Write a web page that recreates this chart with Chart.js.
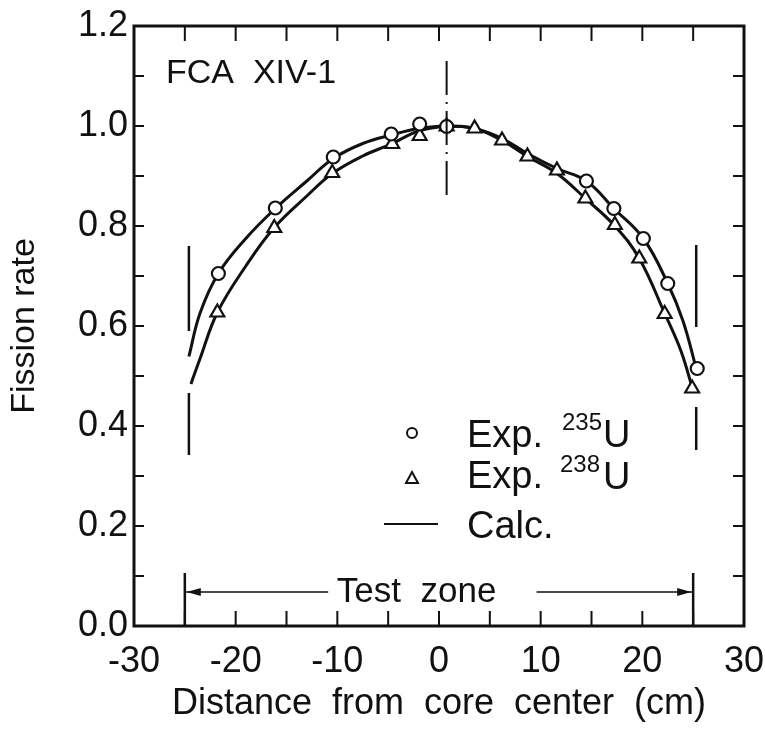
<!DOCTYPE html>
<html>
<head>
<meta charset="utf-8">
<script src="https://cdn.jsdelivr.net/npm/chart.js@4/dist/chart.umd.min.js"></script>
<style>
  body { margin: 0; background: #fff; }
</style>
</head>
<body>
<canvas id="myChart" width="765" height="730"></canvas>
<script>
// measured points, Exp. 235U (circles)
var dist235 = [-21.7, -16.1, -10.4, -4.7, -1.9, 0.75, 14.5, 17.2, 20.1, 22.5, 25.4];
var rate235 = [0.705, 0.836, 0.938, 0.984, 1.004, 0.999, 0.890, 0.835, 0.775, 0.685, 0.515];

// measured points, Exp. 238U (triangles)
var dist238 = [-21.8, -16.2, -10.5, -4.6, -1.9, 0.75, 3.5, 6.2, 8.7, 11.6, 14.4, 17.3, 19.7, 22.2, 24.9];
var rate238 = [0.627, 0.796, 0.906, 0.964, 0.980, 0.999, 0.995, 0.971, 0.939, 0.911, 0.855, 0.802, 0.735, 0.624, 0.475];

// calculated curves
var calcDist235 = [-24.6, -23.5, -21.7, -19, -16.1, -13, -10.4, -7.5, -4.7, -2, 0.75, 3.5, 6.2, 8.7, 11.6, 14.5, 17.2, 20.1, 22.5, 24, 25.3];
var calcRate235 = [0.539, 0.626, 0.705, 0.775, 0.835, 0.89, 0.935, 0.965, 0.982, 0.995, 1.0, 0.995, 0.975, 0.945, 0.915, 0.89, 0.835, 0.775, 0.685, 0.61, 0.515];
var calcDist238 = [-24.4, -23.5, -21.8, -19, -16.2, -13, -10.5, -7.5, -4.6, -2, 0.75, 3.5, 6.2, 8.7, 11.6, 14.4, 17.3, 19.7, 22.2, 23.8, 25];
var calcRate238 = [0.484, 0.535, 0.627, 0.72, 0.797, 0.86, 0.905, 0.94, 0.965, 0.99, 0.999, 0.995, 0.971, 0.939, 0.905, 0.855, 0.80, 0.735, 0.625, 0.55, 0.47];

// decorations (data units)
var testZone = [-25, 25];
var zoneTextY = 0.068;
var zoneBars = [[-24.6, 0.76, 0.59], [-24.6, 0.466, 0.342], [25.3, 0.762, 0.598], [25.3, 0.438, 0.352]];
var centerLine = [0.75, 1.13, 0.85];

var ink = '#111';
var FONT = '"Liberation Sans", Arial, sans-serif';

function pts(xs, ys) {
    return xs.map(function (v, i) { return { x: v, y: ys[i] }; });
}

function arrowHead(ctx, x, y, dir) {
    ctx.beginPath();
    ctx.moveTo(x, y);
    ctx.lineTo(x - dir * 14, y - 4);
    ctx.lineTo(x - dir * 14, y + 4);
    ctx.closePath();
    ctx.fill();
}

var decor = {
    id: 'decor',
    afterDraw: function (chart) {
        var ctx = chart.ctx, a = chart.chartArea;
        var x = chart.scales.x, y = chart.scales.y;
        ctx.save();
        ctx.strokeStyle = ink;
        ctx.fillStyle = ink;

        // frame
        ctx.lineWidth = 3;
        ctx.strokeRect(a.left, a.top, a.right - a.left, a.bottom - a.top);

        // inward ticks
        ctx.lineWidth = 2;
        ctx.beginPath();
        for (var v = -25; v <= 25; v += 5) {
            var px = x.getPixelForValue(v);
            ctx.moveTo(px, a.bottom); ctx.lineTo(px, a.bottom - 15);
            ctx.moveTo(px, a.top); ctx.lineTo(px, a.top + 15);
        }
        for (var k = 1; k < 12; k++) {
            var py = y.getPixelForValue(k / 10);
            ctx.moveTo(a.left, py); ctx.lineTo(a.left + 10, py);
            ctx.moveTo(a.right, py); ctx.lineTo(a.right - 11, py);
        }
        ctx.stroke();

        // dash-dot centre line
        ctx.lineWidth = 2;
        ctx.setLineDash([34, 7, 2, 7]);
        ctx.beginPath();
        ctx.moveTo(x.getPixelForValue(centerLine[0]), y.getPixelForValue(centerLine[1]));
        ctx.lineTo(x.getPixelForValue(centerLine[0]), y.getPixelForValue(centerLine[2]));
        ctx.stroke();
        ctx.setLineDash([]);

        // zone boundary bars
        ctx.lineWidth = 2.5;
        ctx.beginPath();
        zoneBars.forEach(function (b) {
            ctx.moveTo(x.getPixelForValue(b[0]), y.getPixelForValue(b[1]));
            ctx.lineTo(x.getPixelForValue(b[0]), y.getPixelForValue(b[2]));
        });
        // test zone markers
        testZone.forEach(function (z) {
            ctx.moveTo(x.getPixelForValue(z), y.getPixelForValue(0));
            ctx.lineTo(x.getPixelForValue(z), y.getPixelForValue(0.106));
        });
        ctx.stroke();

        // test zone arrows
        var ay = y.getPixelForValue(zoneTextY);
        var l0 = x.getPixelForValue(testZone[0]), r0 = x.getPixelForValue(testZone[1]);
        ctx.lineWidth = 1.5;
        ctx.beginPath();
        ctx.moveTo(l0, ay); ctx.lineTo(x.getPixelForValue(-10.9), ay);
        ctx.moveTo(x.getPixelForValue(9.6), ay); ctx.lineTo(r0, ay);
        ctx.stroke();
        arrowHead(ctx, l0 + 2, ay, -1);
        arrowHead(ctx, r0 - 2, ay, 1);

        ctx.font = '35px ' + FONT;
        ctx.textAlign = 'center';
        ctx.textBaseline = 'middle';
        ctx.fillText('Test  zone', x.getPixelForValue(-2.2), ay);

        // label in corner
        ctx.textAlign = 'left';
        ctx.textBaseline = 'alphabetic';
        ctx.font = '34px ' + FONT;
        ctx.fillText('FCA  XIV-1', a.left + 32, a.top + 57);

        // legend
        var lx = a.left, ly = a.top;
        ctx.lineWidth = 2;
        ctx.beginPath();
        ctx.arc(lx + 278, ly + 407, 5, 0, Math.PI * 2);
        ctx.stroke();
        ctx.beginPath();
        ctx.moveTo(lx + 278, ly + 446);
        ctx.lineTo(lx + 284, ly + 457);
        ctx.lineTo(lx + 272, ly + 457);
        ctx.closePath();
        ctx.stroke();
        ctx.beginPath();
        ctx.moveTo(lx + 250, ly + 498);
        ctx.lineTo(lx + 304, ly + 498);
        ctx.stroke();

        ctx.font = '38px ' + FONT;
        ctx.fillText('Exp.', lx + 333, ly + 421);
        ctx.fillText('U', lx + 469, ly + 421);
        ctx.fillText('Exp.', lx + 333, ly + 462);
        ctx.fillText('U', lx + 469, ly + 463);
        ctx.fillText('Calc.', lx + 333, ly + 512);
        ctx.font = '24px ' + FONT;
        ctx.fillText('235', lx + 428, ly + 404);
        ctx.fillText('238', lx + 426, ly + 446);
        ctx.restore();
    }
};

Chart.defaults.font.family = FONT;
Chart.defaults.color = ink;

var ctx = document.getElementById('myChart');
var myChart = new Chart(ctx, {
    type: 'scatter',
    data: {
        datasets: [{
            label: 'Exp. 235U',
            data: pts(dist235, rate235),
            pointStyle: 'circle',
            pointRadius: 6.5,
            pointBorderWidth: 2.2,
            borderColor: ink,
            backgroundColor: '#fff',
            order: 0
        }, {
            label: 'Exp. 238U',
            data: pts(dist238, rate238),
            pointStyle: 'triangle',
            pointRadius: 8,
            pointBorderWidth: 2.2,
            borderColor: ink,
            backgroundColor: '#fff',
            order: 0
        }, {
            label: 'Calc. 235U',
            data: pts(calcDist235, calcRate235),
            showLine: true,
            tension: 0.4,
            pointRadius: 0,
            borderWidth: 3,
            borderColor: ink,
            order: 1
        }, {
            label: 'Calc. 238U',
            data: pts(calcDist238, calcRate238),
            showLine: true,
            tension: 0.4,
            pointRadius: 0,
            borderWidth: 3,
            borderColor: ink,
            order: 1
        }]
    },
    options: {
        responsive: false,
        animation: false,
        devicePixelRatio: 1,
        layout: { padding: { top: 26, right: 21, left: 0, bottom: 0 } },
        plugins: { legend: { display: false }, tooltip: { enabled: false } },
        scales: {
            x: {
                type: 'linear',
                min: -30,
                max: 30,
                grid: { display: false, drawTicks: false },
                border: { display: false },
                ticks: { stepSize: 10, padding: 14, font: { size: 36 }, color: ink, maxRotation: 0 },
                title: { display: true, text: 'Distance  from  core  center  (cm)', font: { size: 36 }, color: ink },
                afterFit: function (s) { s.height = 104; s.paddingLeft = 0; s.paddingRight = 0; }
            },
            y: {
                min: 0,
                max: 1.2,
                grid: { display: false, drawTicks: false },
                border: { display: false },
                ticks: {
                    stepSize: 0.2, padding: 6, font: { size: 36 }, color: ink,
                    callback: function (v) { return v.toFixed(1); }
                },
                title: { display: true, text: 'Fission rate', font: { size: 34 }, color: ink },
                afterFit: function (s) { s.width = 134; s.paddingTop = 0; s.paddingBottom = 0; }
            }
        }
    },
    plugins: [decor]
});
</script>
</body>
</html>
